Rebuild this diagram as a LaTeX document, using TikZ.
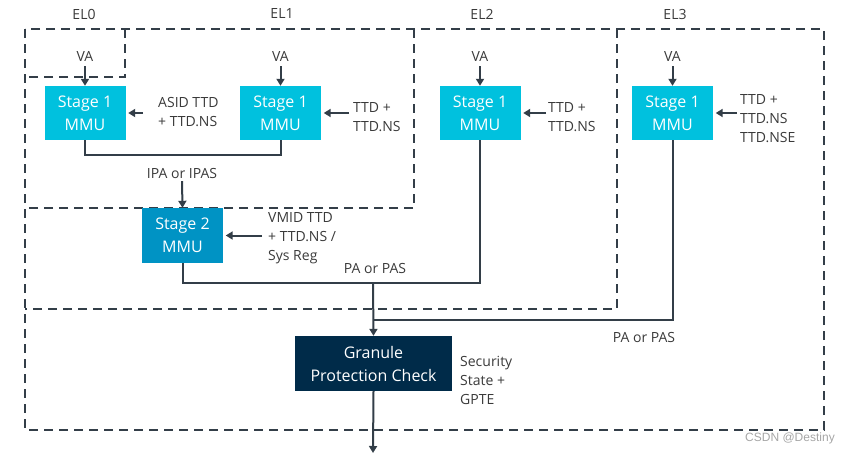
\documentclass[tikz,border=0pt]{standalone}
\usepackage{fontspec}
\setmainfont{Open Sans}
\newfontfamily\markfont{Liberation Sans}
\usetikzlibrary{arrows.meta}

\definecolor{armcyan}{HTML}{00C1DE}
\definecolor{armblue}{HTML}{0093C4}
\definecolor{armnavy}{HTML}{002B49}
\definecolor{linegray}{HTML}{333E48}
\definecolor{textgray}{HTML}{3A3A3A}

\tikzset{
  mmu/.style={fill=armcyan, text=white, minimum width=81pt, minimum height=54pt,
    inner sep=0pt, align=center, font=\fontsize{16}{23}\selectfont},
  elbox/.style={draw=linegray, line width=2.5pt, dash pattern=on 9pt off 6pt},
  lbl/.style={text=textgray, align=left, inner sep=0pt, font=\fontsize{14}{19}\selectfont},
  wire/.style={draw=linegray, line width=2pt},
  feed/.style={wire, -{Triangle[length=7pt,width=8pt]}}
}

\begin{document}
\begin{tikzpicture}[x=1pt, y=-1pt]
  \useasboundingbox (0,0) rectangle (851,455);

  % exception levels, inner ones share the outer top and left edge
  \draw[elbox] (25,29) rectangle (824,430);
  \draw[elbox] (617,29) -- (617,309) -- (25,309);
  \draw[elbox] (414,29) -- (414,208) -- (25,208);
  \draw[elbox] (125,29) -- (125,77) -- (25,77);

  \node[lbl] (el0) at (84,14) {EL0};
  \node[lbl] (el1) at (282,14) {EL1};
  \node[lbl] (el2) at (482,14) {EL2};
  \node[lbl] (el3) at (675,14) {EL3};

  % stage 1 translations
  \foreach \name/\x in {a/85, b/280.5, c/480, d/672.5}{
    \node[mmu] (s1\name) at (\x,113) {Stage 1\\MMU};
    \node[lbl, outer sep=5pt] (va\name) at (\x,56) {VA};
    \draw[feed] (va\name.south) -- (s1\name.north);
  }

  \node[lbl, anchor=west] (ttda) at (158,112) {ASID TTD\\+ TTD.NS};
  \node[lbl, anchor=west] (ttdb) at (353,117) {TTD +\\TTD.NS};
  \node[lbl, anchor=west] (ttdc) at (548,117) {TTD +\\TTD.NS};
  \node[lbl, anchor=west] (ttdd) at (740,119) {TTD +\\TTD.NS\\TTD.NSE};
  \foreach \name/\gap in {a/15, b/4, c/2, d/3}{
    \draw[feed, shorten <=\gap pt, shorten >=2.5pt] (ttd\name.west |- s1\name.east) -- (s1\name.east);
  }

  % stage 2
  \node[mmu, fill=armblue, minimum height=55pt] (s2) at (182.5,235.5) {Stage 2\\MMU};
  \node[lbl, anchor=west] (vmid) at (268,238) {VMID TTD\\+ TTD.NS /\\Sys Reg};
  \draw[feed, shorten <=6pt, shorten >=2.5pt] (vmid.west |- s2.east) -- (s2.east);

  \coordinate (ipajoin) at (182,155);
  \draw[wire] (s1a.south) |- (ipajoin) -| (s1b.south);
  \node[lbl, outer sep=3pt] (ipa) at (182,173) {IPA or IPAS};
  \draw[feed] (ipa.south) -- (s2.north);

  % granule protection check
  \node[mmu, fill=armnavy, minimum width=157pt, minimum height=55pt] (gpc) at (373.5,363.5)
    {Granule\\Protection Check};
  \node[lbl, anchor=west] (gpte) at (460,380) {Security\\State +\\GPTE};

  \coordinate (pajoin) at (373,283);
  \coordinate (el3join) at (373,320);
  \draw[wire] (s2.south) |- (pajoin) -| (s1c.south);
  \draw[wire] (s1d.south) |- (el3join);
  \draw[feed] (pajoin) -- (gpc.north);
  \node[lbl] (pa) at (375,268) {PA or PAS};
  \node[lbl] (pael3) at (644,337) {PA or PAS};

  \coordinate (out) at (373,453);
  \draw[feed] (gpc.south) -- (out);

  \node[text=gray!70, inner sep=0pt, font=\markfont\fontsize{12}{14}\selectfont] (mark) at (790,438) {CSDN @Destiny};
\end{tikzpicture}
\end{document}
